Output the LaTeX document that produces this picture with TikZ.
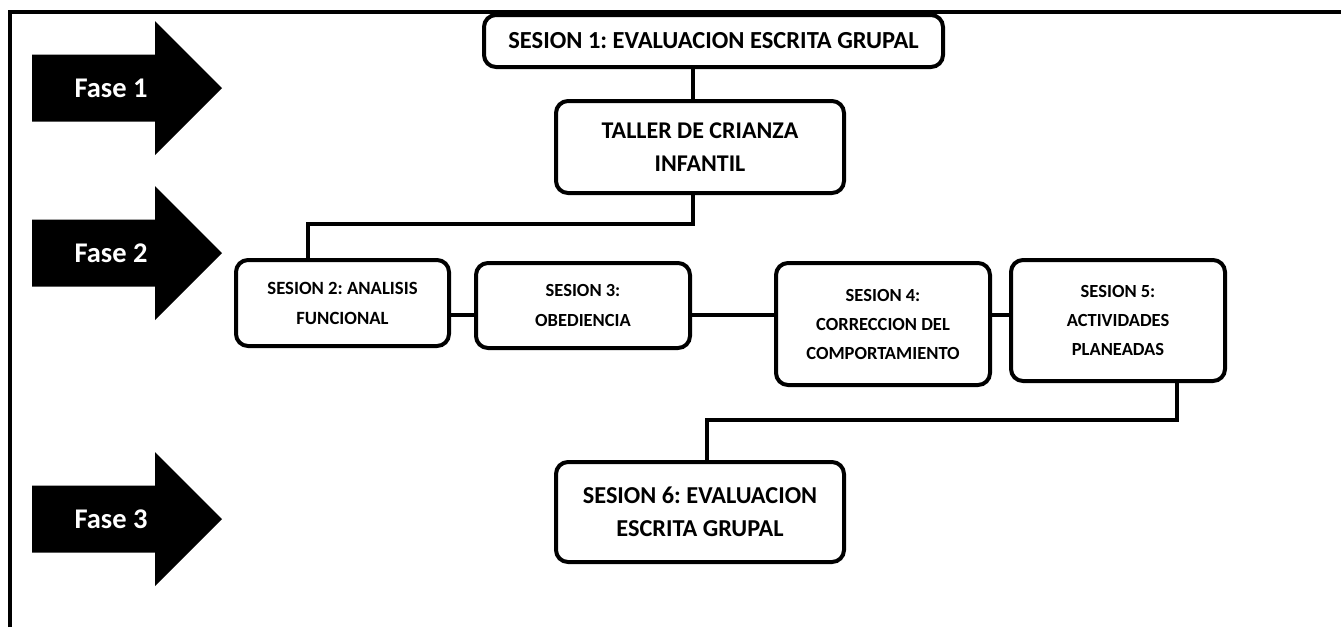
\documentclass[tikz,border=0pt]{standalone}
\usepackage{fontspec}
\setmainfont{Carlito}
\frenchspacing
\usetikzlibrary{positioning, calc}

\tikzset{
  sesion/.style 2 args={draw, line width=4pt, rounded corners=12pt, align=center, inner sep=0pt, font=\fontsize{#1}{#2}\selectfont\bfseries},
  enlace/.style={line width=3.5pt},
  fase/.style={text=white, font=\fontsize{28.5}{32}\selectfont\bfseries},
}

\begin{document}
\begin{tikzpicture}[x=1pt, y=-1pt]
  \useasboundingbox (0,0) rectangle (1341,627);
  \draw[line width=4pt] (10,627) -- (10,12) -- (1341,12);

  % flechas de fase
  \foreach \y/\n in {88/1, 253/2, 519/3} {
    \fill (32,\y-33.5) -- (155,\y-33.5) -- (155,\y-67) -- (222,\y) -- (155,\y+67) -- (155,\y+33.5) -- (32,\y+33.5) -- cycle;
    \node[fase] (fase\n) at (111,\y) {Fase \n};
  }

  % sesiones
  \node[sesion={24.5}{28}, minimum width=459pt, minimum height=52pt] (s1) at (713.5,41) {SESION 1: EVALUACION ESCRITA GRUPAL};
  \node[sesion={24}{33}, minimum width=288pt, minimum height=92pt] (taller) at (700,147) {TALLER DE CRIANZA\\INFANTIL};
  \node[sesion={18.7}{30}, minimum width=213pt, minimum height=86pt] (s2) at (342.5,303) {SESION 2: ANALISIS\\FUNCIONAL};
  \node[sesion={18.5}{30}, minimum width=214pt, minimum height=85pt] (s3) at (583,305.5) {SESION 3:\\OBEDIENCIA};
  \node[sesion={18.5}{29}, minimum width=214pt, minimum height=122pt] (s4) at (883,324) {SESION 4:\\CORRECCION DEL\\COMPORTAMIENTO};
  \node[sesion={18.5}{29}, minimum width=214pt, minimum height=121pt] (s5) at (1118,320.5) {SESION 5:\\ACTIVIDADES\\PLANEADAS};
  \node[sesion={24.3}{33}, minimum width=288pt, minimum height=100pt] (s6) at (700,512) {SESION 6: EVALUACION\\ESCRITA GRUPAL};

  % enlaces
  \draw[enlace] ([xshift=-20.5pt]s1.south) -- ([xshift=-7pt]taller.north);
  \draw[enlace] ([xshift=-7pt]taller.south) -- ++(0,29) -| ([xshift=-34.5pt]s2.north);
  \draw[enlace] ([yshift=-12pt]s2.east) -- ([yshift=-9.5pt]s3.west);
  \draw[enlace] ([yshift=-9.5pt]s3.east) -- ([yshift=9pt]s4.west);
  \draw[enlace] ([yshift=9pt]s4.east) -- ([yshift=5.5pt]s5.west);
  \draw[enlace] ([xshift=59pt]s5.south) -- ++(0,37) -| ([xshift=7pt]s6.north);
\end{tikzpicture}
\end{document}
